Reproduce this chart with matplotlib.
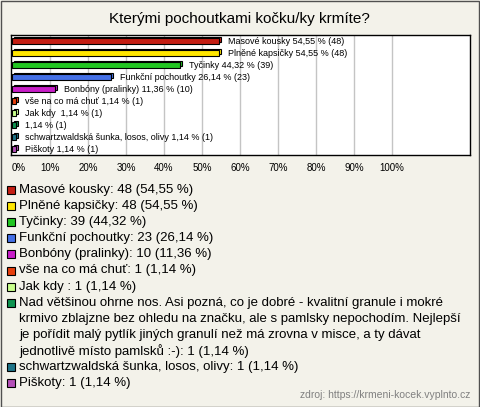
import textwrap
import matplotlib
matplotlib.use('Agg')
import matplotlib.pyplot as plt
from matplotlib.patches import Rectangle
from matplotlib.transforms import ScaledTranslation

plt.rcParams['font.family'] = ['Liberation Sans', 'DejaVu Sans']

# data
nazev = 'Kterými pochoutkami kočku/ky krmíte?'
kategorie = ['Masové kousky', 'Plněné kapsičky', 'Tyčinky', 'Funkční pochoutky',
             'Bonbóny (pralinky)', 'vše na co má chuť', 'Jak kdy ',
             'Nad většinou ohrne nos. Asi pozná, co je dobré - kvalitní granule i mokré '
             'krmivo zblajzne bez ohledu na značku, ale s pamlsky nepochodím. Nejlepší '
             'je pořídit malý pytlík jiných granulí než má zrovna v misce, a ty dávat '
             'jednotlivě místo pamlsků :-)',
             'schwartzwaldská šunka, losos, olivy', 'Piškoty']
# in the chart the long answer is shown without its name
popisky_grafu = ['Masové kousky', 'Plněné kapsičky', 'Tyčinky', 'Funkční pochoutky',
                 'Bonbóny (pralinky)', 'vše na co má chuť', 'Jak kdy ', '',
                 'schwartzwaldská šunka, losos, olivy', 'Piškoty']
pocty = [48, 48, 39, 23, 10, 1, 1, 1, 1, 1]
procenta = [54.55, 54.55, 44.32, 26.14, 11.36, 1.14, 1.14, 1.14, 1.14, 1.14]
barvy = ['#c41e14', '#ffe600', '#22c622', '#4470e6', '#c81ec8',
         '#e8400e', '#c8ff8c', '#0e9450', '#1e7488', '#b450b8']
osa_x = [0, 10, 20, 30, 40, 50, 60, 70, 80, 90, 100]
zdroj = 'zdroj: https://krmeni-kocek.vyplnto.cz'

W, H = 480, 407
fig = plt.figure(figsize=(W / 100, H / 100), dpi=100, facecolor='#f3f2ea')

def fx(px):
    return px / W

def fy(py):
    return 1 - py / H

def cz(p):
    return f'{p:.2f}'.replace('.', ',')

# border around the whole picture
fig.patches.append(Rectangle((0.5 / W, 0.5 / H), 1 - 1.5 / W, 1 - 1.5 / H, transform=fig.transFigure,
                             fill=False, edgecolor='#505050', lw=1))

fig.text(fx(239), fy(19), nazev, ha='center', va='center', fontsize=11)

ax = fig.add_axes([fx(11), fy(155), fx(459), 120 / H])
ax.set_facecolor('white')
ax.set_xlim(-0.26, 120.5)
ax.set_ylim(len(pocty) - 0.5, -0.5)
for g in osa_x[1:]:
    ax.axvline(g, color='#c4c4c4', lw=1, zorder=0)

y = list(range(len(pocty)))
posun = ax.transData + ScaledTranslation(1.6 / 100, 1.6 / 100, fig.dpi_scale_trans)
for i in y:
    ax.barh(i, procenta[i], height=0.45, color=barvy[i], edgecolor='black', lw=0.8,
            transform=posun, zorder=2)
    ax.barh(i, procenta[i], height=0.45, color=barvy[i], edgecolor='black', lw=0.8, zorder=3)
    popis = f'{popisky_grafu[i]} {cz(procenta[i])} % ({pocty[i]})'.strip()
    ax.annotate(popis, (procenta[i], i), xytext=(6.5, 0), textcoords='offset points',
                ha='left', va='center', fontsize=6.5, zorder=4)

ax.set_yticks([])
ax.set_xticks(osa_x)
ax.set_xticklabels([f'{v}%' for v in osa_x], fontsize=7)
ax.get_xticklabels()[0].set_ha('left')
ax.tick_params(axis='x', length=0, pad=6)
for s in ax.spines.values():
    s.set_color('black')
    s.set_linewidth(1)

# legend
radek = 16.1
ypx = 190
for i in range(len(kategorie)):
    text = f'{kategorie[i]}: {pocty[i]} ({cz(procenta[i])} %)'
    radky = textwrap.wrap(text, width=74)
    fig.patches.append(Rectangle((fx(7), fy(ypx + 4)), 8 / W, 8 / H, transform=fig.transFigure,
                                 facecolor=barvy[i], edgecolor='black', lw=0.8))
    for r in radky:
        fig.text(fx(19), fy(ypx), r, ha='left', va='center', fontsize=9.5)
        ypx += radek

fig.text(fx(470), fy(395), zdroj, ha='right', va='center', fontsize=7.5, color='#808080')

fig.savefig('out.png', dpi=100, facecolor=fig.get_facecolor())
